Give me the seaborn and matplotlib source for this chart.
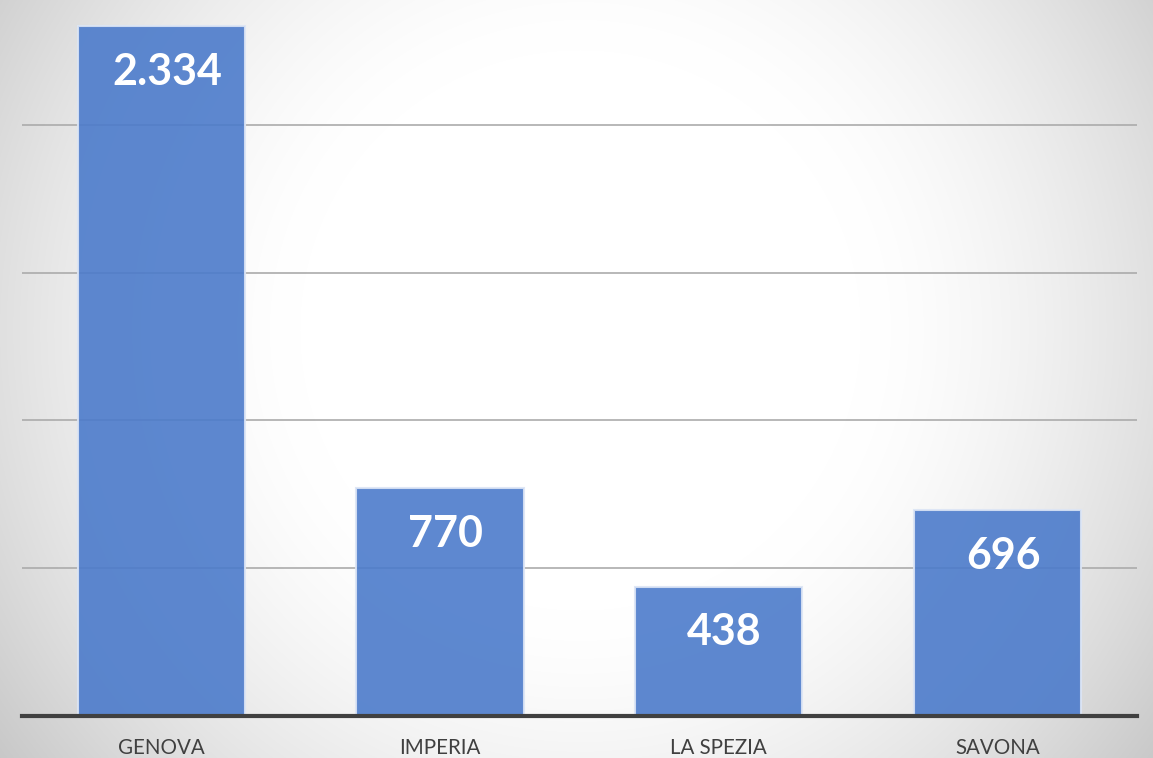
import numpy as np
import pandas as pd
import matplotlib
matplotlib.use("Agg")
import matplotlib.pyplot as plt
import seaborn as sns

categories = ["GENOVA", "IMPERIA", "LA SPEZIA", "SAVONA"]
values = [2334, 770, 438, 696]
grid_ticks = [500, 1000, 1500, 2000]

sns.set_theme(style="white")
plt.rcParams["font.family"] = ["Lato", "DejaVu Sans"]

W, H = 1153, 758
fig = plt.figure(figsize=(W / 100, H / 100), dpi=100)

# radial gradient background
bg = fig.add_axes([0, 0, 1, 1], zorder=0)
yy, xx = np.mgrid[0:H, 0:W]
r = np.sqrt((xx - 580) ** 2 + (yy - 330) ** 2)
t = np.clip((r - 280) / 440, 0, 1.1)
v = (255 - 55 * t ** 1.5) / 255.0
img = np.dstack([v, v, v])
bg.imshow(img, aspect="auto", extent=[0, 1, 0, 1], origin="upper")
bg.set_axis_off()

ax = fig.add_axes([22 / W, 42 / H, 1115 / W, 716 / H], zorder=1)
ax.patch.set_alpha(0)

df = pd.DataFrame({"city": categories, "value": values})
sns.barplot(data=df, x="city", y="value", color="#4C7BCB", saturation=1,
            width=0.6, edgecolor="#DCE5F5", linewidth=1.5, alpha=0.9,
            ax=ax, zorder=2)

ax.set_xlim(-0.5, len(categories) - 0.5)
ax.set_ylim(0, 2423)
ax.set_yticks(grid_ticks)
ax.set_yticklabels([])
ax.yaxis.grid(True, color="#ababab", linewidth=1.2)
ax.set_axisbelow(True)
ax.tick_params(axis="both", length=0)
ax.tick_params(axis="x", pad=16, labelsize=14.8, labelcolor="#404040")
ax.set_xlabel("")
ax.set_ylabel("")
for s in ["top", "left", "right"]:
    ax.spines[s].set_visible(False)
ax.spines["bottom"].set_color("#404040")
ax.spines["bottom"].set_linewidth(3)
ax.spines["bottom"].set_zorder(3)

for p, val in zip(ax.patches, values):
    label = f"{val:,}".replace(",", ".")
    ax.annotate(label, xy=(p.get_x() + p.get_width() / 2, p.get_height()),
                xytext=(4, -33), textcoords="offset points",
                ha="center", va="center", color="white",
                fontsize=31, fontweight="bold", zorder=4)

fig.savefig("out.png", dpi=100)
